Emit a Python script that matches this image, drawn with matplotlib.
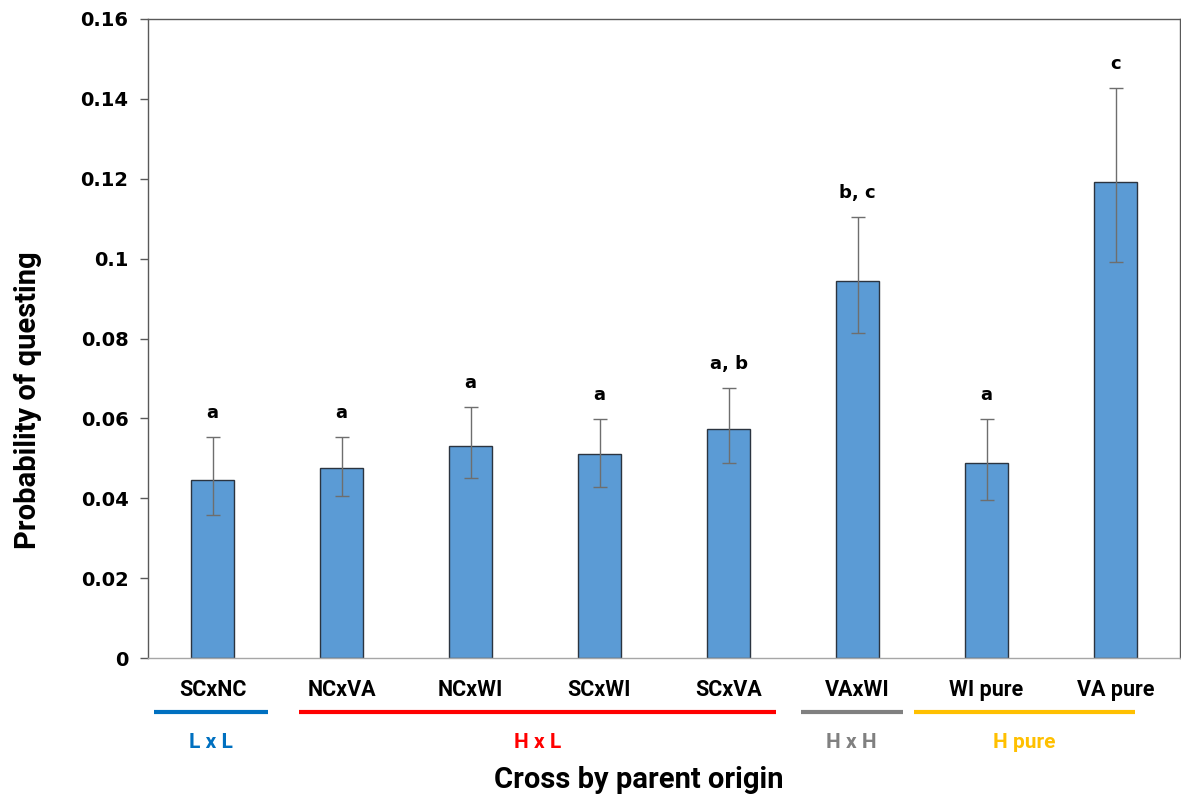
import matplotlib
matplotlib.use("Agg")
import matplotlib.pyplot as plt
import numpy as np

# Questing probability by cross (parent origin)
crosses = ["SCxNC", "NCxVA", "NCxWI", "SCxWI", "SCxVA", "VAxWI", "WI pure", "VA pure"]
prob = [0.0446, 0.0476, 0.0531, 0.0511, 0.0573, 0.0944, 0.0488, 0.1192]
err_low = [0.0358, 0.0406, 0.0451, 0.0428, 0.0488, 0.0814, 0.0396, 0.0991]
err_high = [0.0553, 0.0553, 0.0628, 0.0598, 0.0676, 0.1104, 0.0598, 0.1427]
letters = ["a", "a", "a", "a", "a, b", "b, c", "a", "c"]

# Origin groups: label, first and last cross index, colour
group_labels = ["L x L", "H x L", "H x H", "H pure"]
group_first = [0, 1, 5, 6]
group_last = [0, 4, 5, 7]
group_colors = ["#0070C0", "#FF0000", "#808080", "#FFC000"]

LABEL_FONT = ["Roboto", "DejaVu Sans"]

fig = plt.figure(figsize=(11.81, 7.96), dpi=100)
ax = fig.add_axes([148 / 1181, 138 / 796, 1032 / 1181, 639 / 796])

x = np.arange(len(crosses))
prob_a = np.array(prob)
yerr = np.vstack([prob_a - np.array(err_low), np.array(err_high) - prob_a])

ax.bar(x, prob, width=0.33, color="#5B9BD5", edgecolor="#2B3440", linewidth=1.0, zorder=2)
ax.errorbar(x, prob, yerr=yerr, fmt="none", ecolor="#6E6E6E", elinewidth=1.0,
            capsize=5, capthick=1.0, zorder=3)

for xi, hi, lab in zip(x, err_high, letters):
    ax.annotate(lab, (xi, hi), xytext=(0, 11), textcoords="offset points",
                ha="center", va="bottom", fontsize=13, fontweight="bold",
                family="DejaVu Sans")

ax.set_xlim(-0.5, len(crosses) - 0.5)
ax.set_ylim(0, 0.16)
ax.set_yticks(np.arange(0, 0.161, 0.02))
ax.set_yticklabels(["0", "0.02", "0.04", "0.06", "0.08", "0.1", "0.12", "0.14", "0.16"])
ax.tick_params(axis="y", direction="out", length=6, width=1, color="#595959", pad=8,
               labelsize=14)
for lbl in ax.get_yticklabels():
    lbl.set_fontweight("bold")
    lbl.set_family("DejaVu Sans")

ax.set_xticks(x)
ax.set_xticklabels(crosses, fontsize=15.5, fontweight="bold", family=LABEL_FONT)
ax.tick_params(axis="x", length=0, pad=15)

for side in ["left", "top", "right"]:
    ax.spines[side].set_color("#595959")
    ax.spines[side].set_linewidth(1.0)
ax.spines["bottom"].set_color("#A6A6A6")
ax.spines["bottom"].set_linewidth(1.0)

# Coloured group underlines and group names below the category labels
trans = ax.get_xaxis_transform()
line_y = -0.084
name_y = -0.133
pads = [(0.45, 0.43), (0.33, 0.37), (0.44, 0.35), (0.56, 0.15)]
for lab, a, b, col, (pl, pr) in zip(group_labels, group_first, group_last, group_colors, pads):
    ax.plot([a - pl, b + pr], [line_y, line_y], transform=trans, color=col, lw=3,
            clip_on=False, solid_capstyle="butt")
    ax.text((a - pl + b + pr) / 2, name_y, lab, transform=trans, ha="center", va="center",
            color=col, fontsize=15, fontweight="bold", family=LABEL_FONT)

ax.set_xlabel("Cross by parent origin", fontsize=21, fontweight="bold", family=LABEL_FONT)
ax.xaxis.set_label_coords(0.476, -0.191)
ax.xaxis.label.set_va("center")
ax.set_ylabel("Probability of questing", fontsize=21, fontweight="bold", family=LABEL_FONT)
ax.yaxis.set_label_coords(-0.116, 0.404)
ax.yaxis.label.set_va("center")

fig.savefig("out.png", dpi=100)
